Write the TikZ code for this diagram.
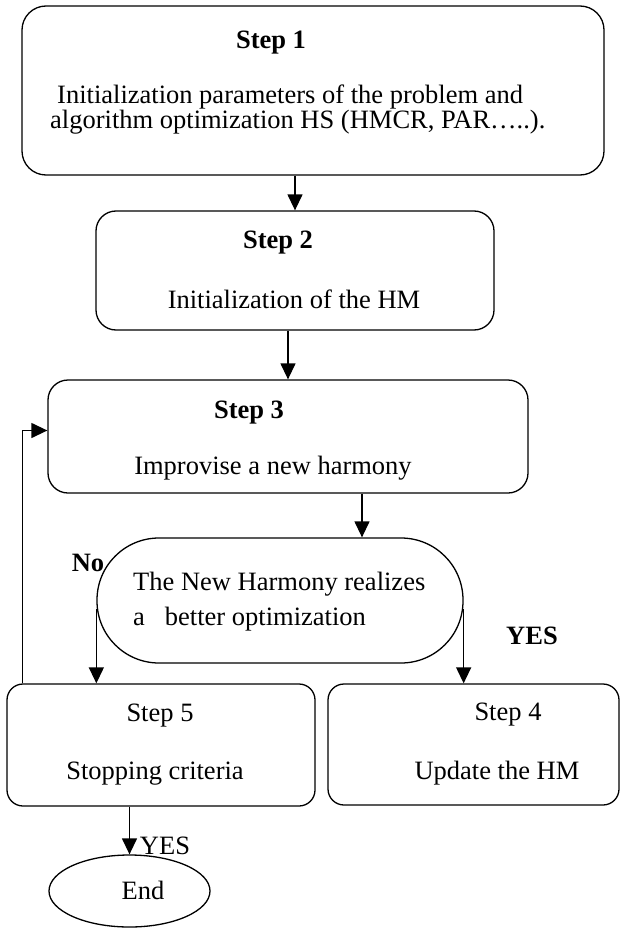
\documentclass[tikz,border=0pt]{standalone}
\usepackage{fontspec}
\setmainfont{Liberation Serif}
\usetikzlibrary{arrows.meta,shapes.geometric}
\begin{document}
\begin{tikzpicture}[x=1pt,y=-1pt,>={Triangle[length=16pt,width=15pt]}]
		\tikzstyle{box}=[draw,line width=1.3pt,rounded corners=18pt]
		\tikzstyle{txt}=[inner sep=0pt,font=\fontsize{26.5}{21}\selectfont]
		\tikzstyle{bold}=[inner sep=0pt,font=\fontsize{26.5}{21}\selectfont\bfseries]
		\tikzstyle{flow}=[draw,->,line width=1.3pt]
		\useasboundingbox (0,0) rectangle (621,928);
		\begin{scope}
			\node [box,rounded corners=24pt,minimum width=582pt,minimum height=169pt] (box1) at (313,90.5) {};
			\node [box,rounded corners=20pt,minimum width=398pt,minimum height=119pt] (box2) at (295,270.5) {};
			\node [box,rounded corners=20pt,minimum width=480pt,minimum height=113pt] (box3) at (288,436.5) {};
			\node [box,rounded corners=62pt,minimum width=366pt,minimum height=125pt] (dec) at (280,600.5) {};
			\node [box,rounded corners=16pt,minimum width=308pt,minimum height=122pt] (box5) at (161,745) {};
			\node [box,rounded corners=16pt,minimum width=291pt,minimum height=121pt] (box4) at (473.5,744.5) {};
			\node [draw,line width=1.3pt,ellipse,minimum width=161pt,minimum height=72pt] (end) at (129.5,891) {};

			\node [bold] (s1) at (271,43) {Step 1};
			\node [txt,anchor=west,align=left] (s1t) at (50,110) {\hspace*{7pt}Initialization parameters of the problem and\\algorithm optimization HS (HMCR, PAR…..).};
			\node [bold] (s2) at (278,243) {Step 2};
			\node [txt] (s2t) at (294,299) {Initialization of the HM};
			\node [bold] (s3) at (249,413) {Step 3};
			\node [txt] (s3t) at (273,468) {Improvise a new harmony};
			\node [txt,anchor=west,align=left,font=\fontsize{26.5}{35}\selectfont] (dect) at (133,602) {The New Harmony realizes\\a\hspace{20pt}better optimization};
			\node [bold] (no) at (88,563) {No};
			\node [bold] (yes) at (532,636) {YES};
			\node [txt] (s5) at (160,716) {Step 5};
			\node [txt] (s5t) at (155,774) {Stopping criteria};
			\node [txt] (s4) at (508,715) {Step 4};
			\node [txt] (s4t) at (497,773) {Update the HM};
			\node [txt] (yes2) at (165,846) {YES};
			\node [txt] (endt) at (143,890) {End};

			\path[flow] (box2.north |- box1.south) to (box2.north);
			\path[flow] (box3.north |- box2.south) to (box3.north);
			\path[flow] ([xshift=74pt]box3.south) to ([xshift=74pt]box3.south |- dec.north);
			\path[flow] ([yshift=-8pt]dec.west) to (dec.west |- box5.north);
			\path[flow] ([yshift=-8pt]dec.east) to (dec.east |- box4.north);
			\path[flow] ([xshift=16pt]box5.north west) |- ([yshift=6pt]box3.west);
			\path[flow] (box5.south -| end.north) to (end.north);
		\end{scope}
\end{tikzpicture}
\end{document}
